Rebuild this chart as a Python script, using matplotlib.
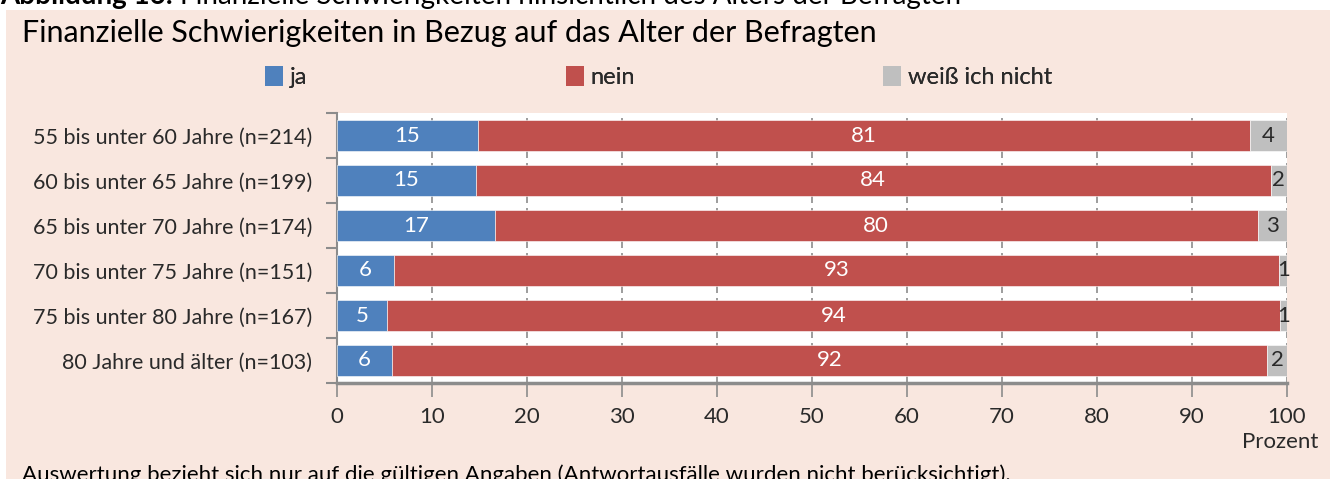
import matplotlib.pyplot as plt
import numpy as np
from matplotlib.patches import Rectangle, Patch

# Daten (Prozent)
kategorien = [
    "55 bis unter 60 Jahre (n=214)",
    "60 bis unter 65 Jahre (n=199)",
    "65 bis unter 70 Jahre (n=174)",
    "70 bis unter 75 Jahre (n=151)",
    "75 bis unter 80 Jahre (n=167)",
    "80 Jahre und älter (n=103)",
]
ja = [14.8, 14.6, 16.6, 6.0, 5.3, 5.8]
nein = [81.3, 83.7, 80.3, 93.2, 94.0, 92.1]
weiss_nicht = [3.9, 1.7, 3.1, 0.8, 0.7, 2.1]

serien = ["ja", "nein", "weiß ich nicht"]
farben = ["#4f81bd", "#c0504d", "#bfbfbf"]
x_ticks = np.arange(0, 101, 10)

COND = ["Lato", "DejaVu Sans"]
TITLE_FONT = ["Lato", "DejaVu Sans"]
PINK = "#f9e7df"
GRAU = "#8c8c8c"
TXT = "#2a2a2a"

fig = plt.figure(figsize=(13.3, 4.79), dpi=100, facecolor="white")
# rosa Hintergrundkasten
fig.patches.append(Rectangle((6 / 1330, 0), 1, 1 - 10 / 479, transform=fig.transFigure,
                             facecolor=PINK, edgecolor="none", zorder=-10))

ax = fig.add_axes([337 / 1330, 1 - 383 / 479, 950 / 1330, 270 / 479])
ax.set_facecolor("white")

y = np.arange(len(kategorien))
links = np.zeros(len(kategorien))
for werte, name, farbe in zip([ja, nein, weiss_nicht], serien, farben):
    werte = np.array(werte)
    bars = ax.barh(y, werte, left=links, height=0.67, color=farbe, label=name,
                   edgecolor="white", linewidth=0.4, zorder=3)
    textfarbe = TXT if farbe == "#bfbfbf" else "white"
    for rect, w in zip(bars, werte):
        ax.text(rect.get_x() + rect.get_width() / 2, rect.get_y() + rect.get_height() / 2,
                f"{int(round(w))}", ha="center", va="center", color=textfarbe,
                fontsize=16, family=COND, zorder=4)
    links += werte

ax.set_xlim(0, 100)
ax.set_ylim(len(kategorien) - 0.5, -0.5)
ax.set_xticks(x_ticks)
ax.set_xticklabels([str(t) for t in x_ticks], family=COND, fontsize=16, color=TXT)
ax.tick_params(axis="x", length=10, width=1.2, color=GRAU, pad=7)

# Kategorien als Beschriftung, Ticks an den Grenzen
ax.set_yticks(y)
ax.set_yticklabels(kategorien, family=COND, fontsize=15.5, color=TXT)
ax.tick_params(axis="y", length=0, pad=18)
ax.set_yticks(np.arange(-0.5, len(kategorien)), minor=True)
ax.tick_params(axis="y", which="minor", length=8, width=1.5, color=GRAU)

ax.grid(axis="x", color=GRAU, linestyle=(0, (6, 3)), linewidth=1.2, zorder=0)
for s in ["top", "right"]:
    ax.spines[s].set_visible(False)
ax.spines["left"].set_color(GRAU)
ax.spines["left"].set_linewidth(1.5)
ax.spines["bottom"].set_color(GRAU)
ax.spines["bottom"].set_linewidth(2.5)

fig.text(1318 / 1330, 1 - 442 / 479, "Prozent", ha="right", va="center",
         family=COND, fontsize=16, color=TXT)

# Titel
fig.text(22 / 1330, 1 - 33 / 479, "Finanzielle Schwierigkeiten in Bezug auf das Alter der Befragten",
         ha="left", va="center", family=TITLE_FONT, fontsize=22, color="black")

# abgeschnittene Abbildungsunterschrift oben
t1 = fig.text(0, 1 - 4 / 479, "Abbildung 16: ", ha="left", va="baseline",
              family=TITLE_FONT, fontsize=20, fontweight="bold", color="black")
ax.annotate("Finanzielle Schwierigkeiten hinsichtlich des Alters der Befragten",
            xy=(1, 0), xycoords=t1, ha="left", va="bottom",
            family=TITLE_FONT, fontsize=20, color="black", annotation_clip=False)

# Fußnote (unten abgeschnitten)
fig.text(22 / 1330, 1 - 481 / 479,
         "Auswertung bezieht sich nur auf die gültigen Angaben (Antwortausfälle wurden nicht berücksichtigt).",
         ha="left", va="baseline", family=TITLE_FONT, fontsize=16, color="black")

# Legende: jeder Eintrag an seiner Position
leg_x = [265, 566, 883]
for h_farbe, name, lx in zip(farben, serien, leg_x):
    leg = fig.legend([Patch(facecolor=h_farbe, edgecolor="none")], [name],
                     loc="center left", bbox_to_anchor=(lx / 1330, 1 - 77 / 479),
                     frameon=False, borderpad=0, borderaxespad=0,
                     handlelength=0.75, handleheight=0.95, handletextpad=0.3,
                     prop={"family": COND, "size": 17}, labelcolor=TXT)
    fig.add_artist(leg)

fig.savefig("out.png", dpi=100, facecolor=fig.get_facecolor())
